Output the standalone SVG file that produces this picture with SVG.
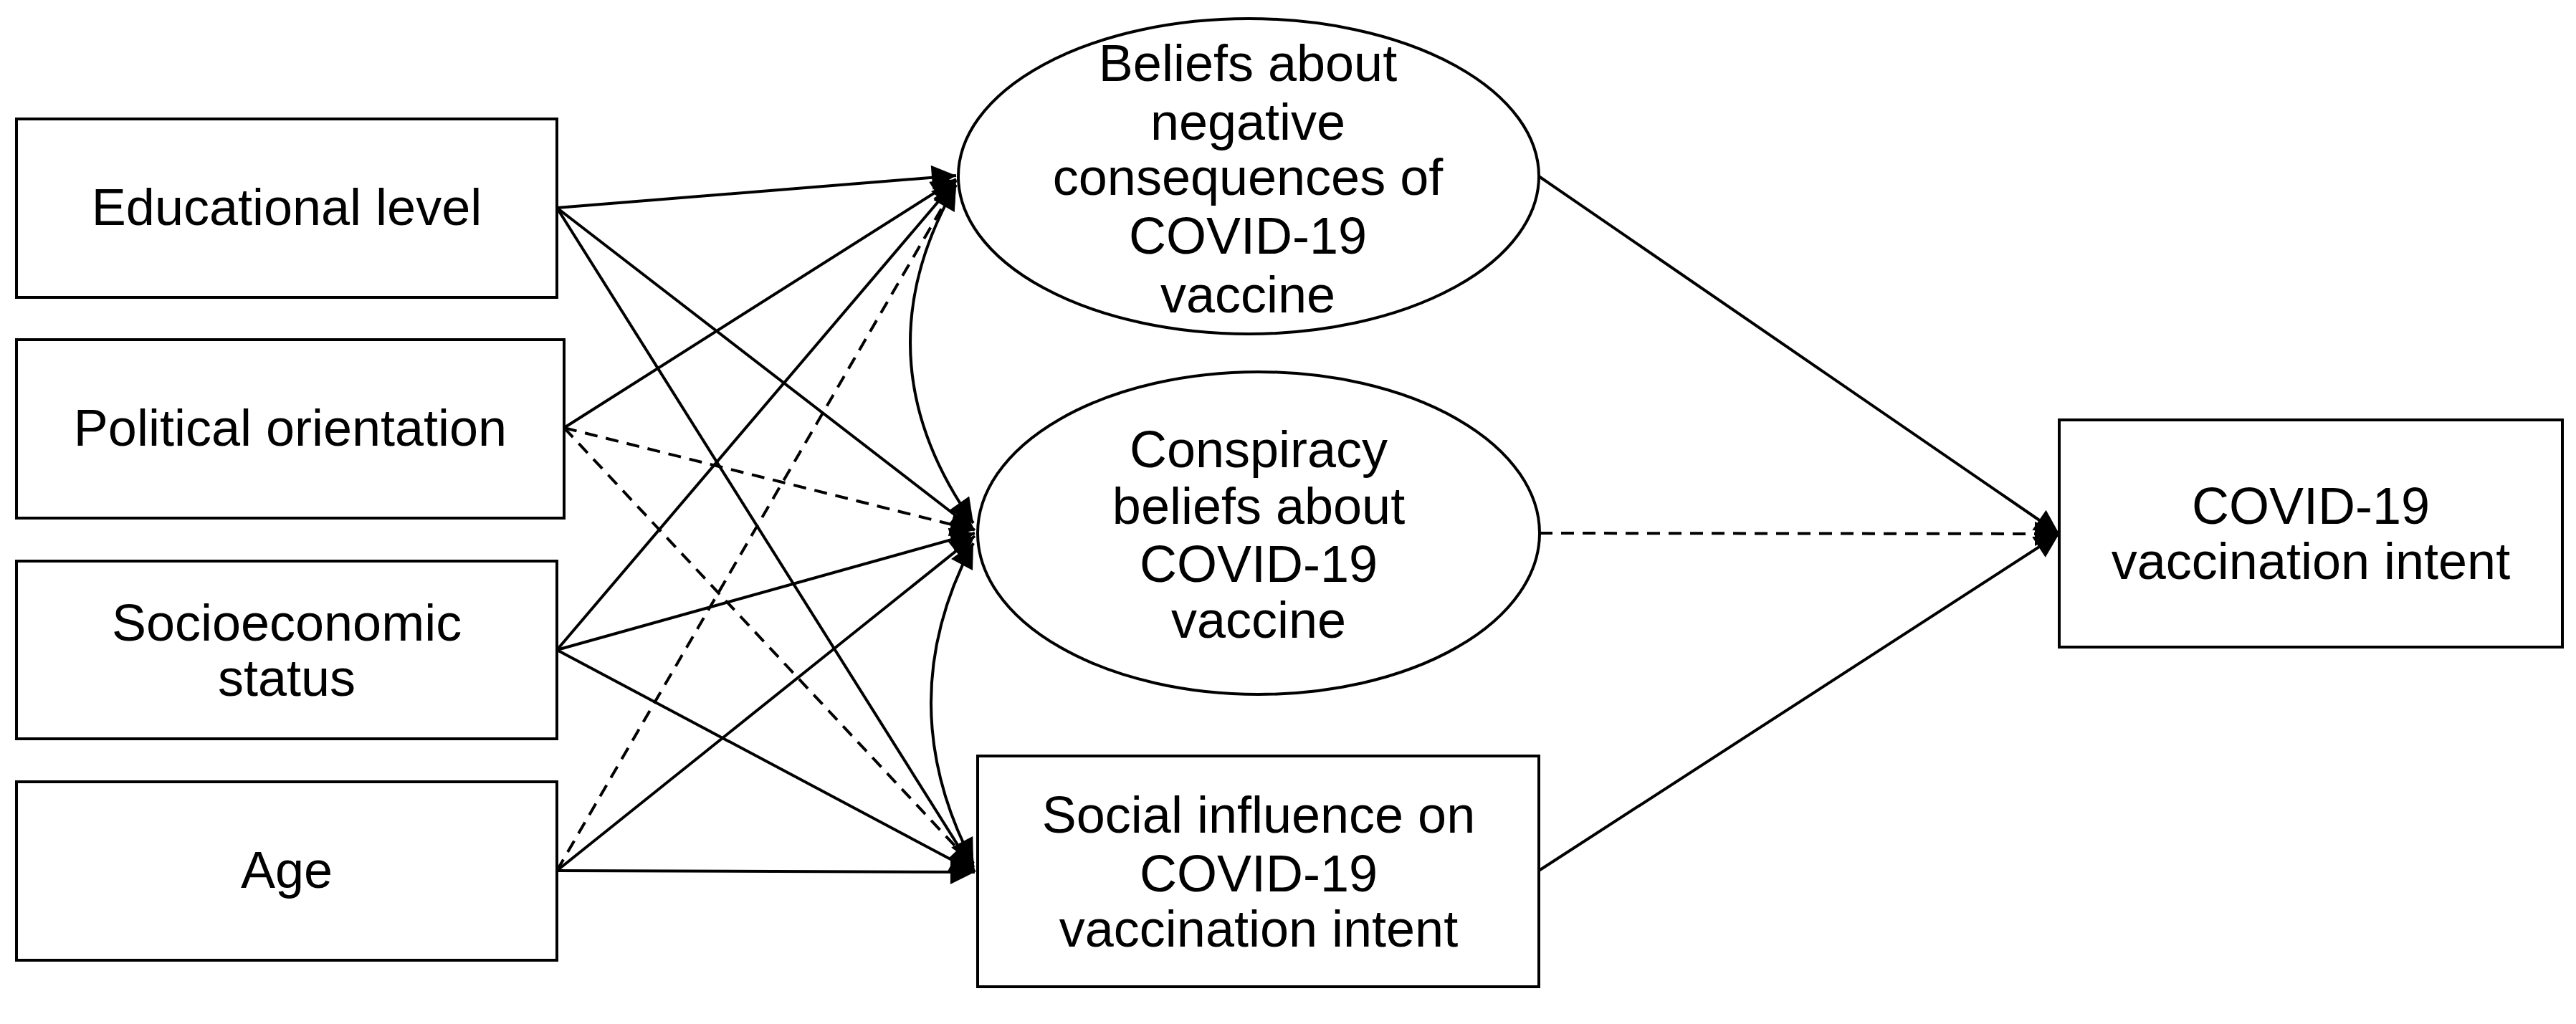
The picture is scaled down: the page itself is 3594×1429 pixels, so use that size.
<svg xmlns="http://www.w3.org/2000/svg" width="3594" height="1429" viewBox="0 0 3594 1429">
<style>
.n{fill:#fff;stroke:#000;stroke-width:4}
.t{font-family:"Liberation Sans",Arial,sans-serif;font-size:72px;text-anchor:middle;fill:#000}
.c{fill:none;stroke:#000;stroke-width:4;marker-end:url(#a)}
.d{stroke-dasharray:18 12}
.b{marker-start:url(#a)}
</style>
<defs>
<marker id="a" viewBox="0 0 10 10" refX="10" refY="5" markerWidth="46" markerHeight="34" markerUnits="userSpaceOnUse" orient="auto-start-reverse"><path d="M0,0L10,5L0,10z" fill="#000"/></marker>
</defs>
<rect width="3594" height="1429" fill="#fff"/>
<g id="edu"><rect class="n" x="23" y="166" width="754" height="249"/><text class="t" x="400" y="314">Educational level</text></g>
<g id="pol"><rect class="n" x="23" y="474" width="764" height="249"/><text class="t" x="405" y="622">Political orientation</text></g>
<g id="ses"><rect class="n" x="23" y="783" width="754" height="248"/><text class="t" x="400" y="894">Socioeconomic</text><text class="t" x="400" y="971">status</text></g>
<g id="age"><rect class="n" x="23" y="1091" width="754" height="249"/><text class="t" x="400" y="1239">Age</text></g>
<g id="neg"><ellipse class="n" cx="1742" cy="246" rx="405" ry="220"/><text class="t" x="1741" y="113">Beliefs about</text><text class="t" x="1741" y="195">negative</text><text class="t" x="1741" y="272">consequences of</text><text class="t" x="1741" y="354">COVID-19</text><text class="t" x="1741" y="436">vaccine</text></g>
<g id="con"><ellipse class="n" cx="1756" cy="744" rx="392" ry="225"/><text class="t" x="1756" y="652">Conspiracy</text><text class="t" x="1756" y="731">beliefs about</text><text class="t" x="1756" y="812">COVID-19</text><text class="t" x="1756" y="890">vaccine</text></g>
<g id="soc"><rect class="n" x="1364" y="1055" width="783" height="322"/><text class="t" x="1756" y="1162">Social influence on</text><text class="t" x="1756" y="1244">COVID-19</text><text class="t" x="1756" y="1321">vaccination intent</text></g>
<g id="int"><rect class="n" x="2873" y="586" width="702" height="317"/><text class="t" x="3224" y="731">COVID-19</text><text class="t" x="3224" y="808">vaccination intent</text></g>
<g id="connectors">
<path class="c" d="M777,290L1334,245"/>
<path class="c" d="M777,290L1360,740"/>
<path class="c" d="M777,290L1360,1217"/>
<path class="c" d="M787,597L1334,250"/>
<path class="c d" d="M787,597L1360,740"/>
<path class="c d" d="M787,597L1360,1210"/>
<path class="c" d="M777,907L1334,252"/>
<path class="c" d="M777,907L1360,744"/>
<path class="c" d="M777,907L1360,1217"/>
<path class="c d" d="M777,1215L1334,256"/>
<path class="c" d="M777,1215L1360,748"/>
<path class="c" d="M777,1215L1360,1217"/>
<path class="c b" d="M1334,258Q1195,500 1358,730"/>
<path class="c b" d="M1358,758Q1240,980 1358,1205"/>
<path class="c" d="M2147,246L2873,745"/>
<path class="c d" d="M2148,744L2873,745"/>
<path class="c" d="M2147,1215L2873,745"/>
</g>
</svg>
